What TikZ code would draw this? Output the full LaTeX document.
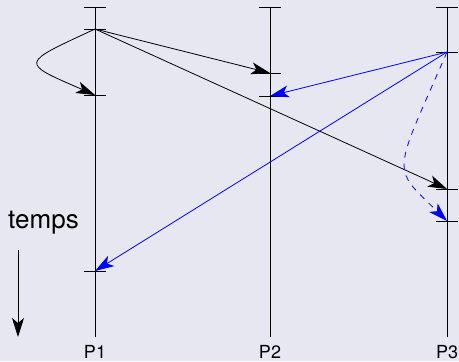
\documentclass[tikz,border=0pt]{standalone}
\usepackage{fontspec}
\setmainfont{TeX Gyre Heros}
\usetikzlibrary{arrows.meta}
\definecolor{fond}{RGB}{231,231,242}

\tikzset{
  msg/.style={-{Stealth[length=9.5pt,width=6pt,inset=2.5pt]}},
  tick/.style={line width=0.5pt},
  proc/.style={line width=0.45pt},
  lbl/.style={anchor=base,font=\fontsize{9}{11}\selectfont}
}

\begin{document}
\begin{tikzpicture}[x=0.5pt,y=-0.5pt]
\useasboundingbox[fill=fond] (0,0) rectangle (459,361);
\coordinate (p1top) at (95,7);
\coordinate (p1bot) at (95,337);
\coordinate (p2top) at (270,7);
\coordinate (p2bot) at (270,337);
\coordinate (p3top) at (447,7);
\coordinate (p3bot) at (447,337);
\coordinate (a1) at (95,29);
\coordinate (a2) at (95,95);
\coordinate (a3) at (95,271);
\coordinate (b1) at (270,73);
\coordinate (b2) at (270,96);
\coordinate (c1) at (447,52);
\coordinate (c2) at (447,189);
\coordinate (c3) at (447,221);
\draw[proc] (p1top) -- (p1bot);
\draw[proc] (p2top) -- (p2bot);
\draw[proc] (p3top) -- (p3bot);
\foreach \e in {p1top,a1,a2,a3,p2top,b1,b2,p3top,c1,c2,c3}
  \draw[tick] (\e) ++(-11,0) -- ++(22,0);
\node[lbl] (l1) at (95,358) {P1};
\node[lbl] (l2) at (270,358) {P2};
\node[lbl] (l3) at (447,358) {P3};
\node[anchor=base,font=\fontsize{13}{15}\selectfont] (temps) at (43.5,228) {temps};
\coordinate (t0) at (18,250);
\coordinate (t1) at (18,337);
\draw[msg] (t0) -- (t1);
\draw[msg] (a1) .. controls (20,64) and (19,62) .. (a2);
\draw[msg] (a1) -- (b1);
\draw[msg] (a1) -- (c2);
\draw[msg,blue] (c1) -- (b2);
\draw[msg,blue] (c1) -- (a3);
\draw[msg,blue,dashed] (c1) .. controls (392,178) and (391,166) .. (c3);
\end{tikzpicture}
\end{document}
